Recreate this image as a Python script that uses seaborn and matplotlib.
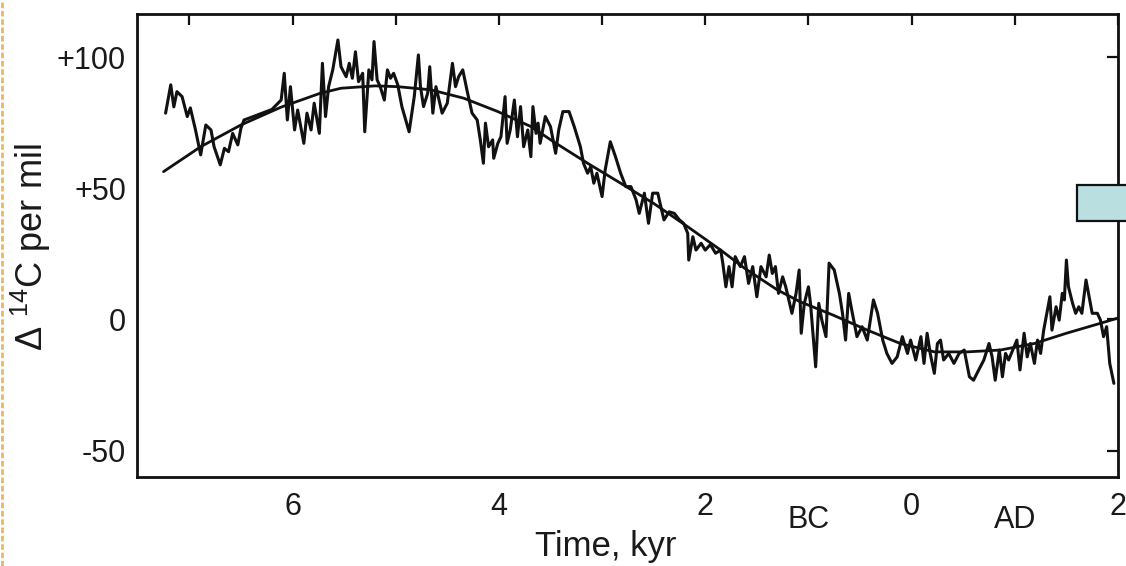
import matplotlib
matplotlib.use("Agg")
import matplotlib.pyplot as plt
from matplotlib.patches import Rectangle
from matplotlib.lines import Line2D
import seaborn as sns
import pandas as pd

# ---- data (time in kyr, negative = BC; delta 14C in per mil) ----
time_record = [-7.23, -7.18, -7.15, -7.12, -7.07, -7.02, -6.99, -6.94, -6.89, -6.84,
               -6.79, -6.76, -6.70, -6.66, -6.62, -6.58, -6.53, -6.50, -6.47, -6.40,
               -6.30, -6.20, -6.11, -6.08, -6.05, -6.02, -5.98, -5.95, -5.89, -5.86,
               -5.82, -5.79, -5.74, -5.71, -5.68, -5.65, -5.61, -5.56, -5.53, -5.48,
               -5.45, -5.42, -5.39, -5.36, -5.32, -5.30, -5.26, -5.23, -5.21, -5.18,
               -5.15, -5.11, -5.08, -5.05, -5.02, -4.98, -4.94, -4.87, -4.82, -4.78,
               -4.76, -4.73, -4.69, -4.67, -4.64, -4.61, -4.58, -4.55, -4.50, -4.45,
               -4.42, -4.39, -4.35, -4.31, -4.26, -4.21, -4.18, -4.15, -4.13, -4.10,
               -4.06, -4.05, -4.01, -3.98, -3.94, -3.92, -3.89, -3.85, -3.82, -3.79,
               -3.76, -3.72, -3.69, -3.67, -3.64, -3.62, -3.60, -3.55, -3.50, -3.45,
               -3.42, -3.38, -3.32, -3.27, -3.21, -3.18, -3.14, -3.11, -3.08, -3.05,
               -3.00, -2.97, -2.92, -2.87, -2.82, -2.77, -2.72, -2.67, -2.64, -2.59,
               -2.55, -2.51, -2.46, -2.43, -2.40, -2.35, -2.30, -2.25, -2.21, -2.17,
               -2.16, -2.12, -2.09, -2.04, -2.00, -1.95, -1.90, -1.85, -1.83, -1.80,
               -1.77, -1.74, -1.71, -1.66, -1.62, -1.58, -1.54, -1.50, -1.46, -1.41,
               -1.38, -1.35, -1.32, -1.29, -1.25, -1.22, -1.19, -1.16, -1.12, -1.09,
               -1.07, -1.04, -1.00, -0.98, -0.93, -0.90, -0.87, -0.83, -0.80, -0.75,
               -0.70, -0.67, -0.64, -0.61, -0.58, -0.53, -0.48, -0.43, -0.37, -0.33,
               -0.28, -0.24, -0.19, -0.14, -0.09, -0.04, -0.01, 0.04, 0.09, 0.12,
               0.15, 0.18, 0.22, 0.25, 0.28, 0.31, 0.36, 0.41, 0.46, 0.51,
               0.56, 0.60, 0.65, 0.70, 0.75, 0.78, 0.81, 0.85, 0.88, 0.91,
               0.94, 0.98, 1.02, 1.05, 1.09, 1.12, 1.15, 1.19, 1.22, 1.25,
               1.28, 1.31, 1.34, 1.36, 1.40, 1.43, 1.46, 1.48, 1.50, 1.52,
               1.56, 1.59, 1.62, 1.65, 1.69, 1.72, 1.75, 1.80, 1.83, 1.86,
               1.89, 1.92, 1.96]
delta_record = [78.6, 89.4, 81.0, 86.8, 84.9, 77.3, 80.6, 72.2, 62.7, 74.1,
                72.2, 65.8, 58.9, 65.2, 63.9, 70.9, 66.5, 72.8, 76.0, 77.0,
                78.5, 80.0, 83.6, 93.8, 76.0, 88.7, 72.2, 79.8, 67.1, 78.6,
                72.2, 82.4, 70.9, 97.6, 77.3, 88.7, 95.1, 106.5, 96.3, 92.5,
                97.6, 91.9, 102.0, 90.6, 93.8, 71.5, 95.1, 91.3, 105.9, 91.3,
                88.7, 83.6, 95.1, 91.9, 93.8, 89.4, 81.1, 71.5, 84.9, 100.8,
                88.7, 81.1, 86.2, 96.3, 78.6, 88.7, 83.6, 78.6, 82.4, 97.6,
                88.7, 92.5, 95.1, 87.5, 78.6, 76.0, 68.4, 59.5, 74.8, 65.8,
                68.4, 61.4, 67.1, 69.6, 84.9, 67.1, 72.2, 83.6, 69.6, 81.1,
                65.8, 72.2, 62.0, 81.1, 70.9, 74.8, 67.1, 77.3, 73.5, 63.3,
                72.2, 79.2, 79.2, 73.5, 65.8, 59.5, 55.7, 58.2, 51.9, 55.7,
                46.8, 56.9, 67.7, 62.0, 55.7, 50.6, 50.6, 45.5, 40.4, 48.1,
                36.6, 48.1, 48.1, 42.9, 37.9, 41.0, 40.4, 37.9, 36.6, 32.8,
                22.6, 31.5, 26.4, 29.0, 26.4, 28.5, 25.2, 26.4, 21.4, 12.4,
                20.1, 12.4, 23.9, 20.1, 23.9, 13.7, 20.1, 8.6, 20.1, 16.2,
                24.5, 17.5, 20.1, 9.9, 16.2, 12.4, 7.4, 2.3, 9.9, 18.8,
                -5.3, 6.1, 12.4, 6.1, -18.1, 6.1, -0.3, -6.6, 21.4, 18.8,
                9.9, 2.3, -7.9, 9.9, 3.5, -6.6, -2.8, -7.9, 7.4, 2.3,
                -7.9, -13.0, -16.8, -14.3, -6.6, -13.0, -7.9, -15.5, -6.6, -16.8,
                -5.3, -13.0, -20.6, -9.2, -7.9, -15.5, -13.0, -16.8, -13.0, -11.7,
                -21.9, -23.2, -19.3, -15.5, -9.2, -14.3, -23.2, -11.7, -21.9, -13.0,
                -15.5, -11.7, -7.9, -19.3, -5.3, -14.3, -9.2, -16.8, -7.9, -13.0,
                -4.1, 2.3, 8.6, -4.1, 4.8, -0.3, 9.9, 7.4, 22.6, 12.4,
                6.1, 2.3, 4.8, 2.3, 15.0, 8.6, 2.3, 2.3, -0.3, -6.6,
                -2.8, -16.8, -24.4]

time_trend = [-7.25, -6.89, -6.50, -6.11, -5.73, -5.53, -5.20, -4.98, -4.66, -4.34,
              -4.01, -3.69, -3.47, -3.14, -2.82, -2.50, -2.17, -1.85, -1.62, -1.30,
              -1.08, -0.76, -0.43, -0.11, 0.22, 0.54, 0.86, 1.19, 1.50, 1.83, 2.00]
delta_trend = [56.3, 65.8, 74.1, 80.9, 86.2, 88.1, 89.0, 88.7, 87.5, 84.3,
               79.2, 73.5, 67.7, 59.5, 51.9, 44.2, 35.3, 26.4, 19.5, 11.2,
               6.7, 1.6, -4.1, -9.2, -12.4, -12.4, -11.7, -9.2, -5.3, -1.5, 0.5]

x_ticks = [-7, -6, -5, -4, -3, -2, -1, 0, 1, 2]
x_ticklabels = ["", "6", "", "4", "", "2", "", "0", "", "2"]
era_labels = {-1: "BC", 1: "AD"}
y_ticks = [-50, 0, 50, 100]
y_ticklabels = ["-50", "0", "+50", "+100"]

# ---- style ----
sns.set_style("white")
plt.rcParams["font.family"] = ["Liberation Sans", "DejaVu Sans"]
plt.rcParams["mathtext.fontset"] = "custom"
plt.rcParams["mathtext.rm"] = "Liberation Sans"
plt.rcParams["mathtext.it"] = "Liberation Sans:italic"

W, H = 1126, 566
fig = plt.figure(figsize=(W / 100, H / 100), dpi=100)
fig.patch.set_facecolor("white")
ax = fig.add_axes([137 / W, 1 - 477 / H, (1118 - 137) / W, (477 - 14) / H])
ax.set_facecolor("white")

ink = "#111111"
txt = "#1a1a1a"
rec = pd.DataFrame({"time": time_record, "delta": delta_record})
trend = pd.DataFrame({"time": time_trend, "delta": delta_trend})
sns.lineplot(data=rec, x="time", y="delta", ax=ax, color=ink, linewidth=2.2,
             estimator=None, sort=False)
sns.lineplot(data=trend, x="time", y="delta", ax=ax, color=ink, linewidth=2.0,
             estimator=None, sort=False)

ax.set_xlim(-7.507, 2.0)
ax.set_ylim(-60.1, 116.4)
ax.set_xticks(x_ticks)
ax.set_xticklabels(x_ticklabels)
ax.set_yticks(y_ticks)
ax.set_yticklabels(y_ticklabels)
ax.tick_params(axis="both", which="major", direction="in", length=8, width=1.6,
               color=ink, labelcolor=txt, labelsize=22,
               top=True, right=True)
ax.tick_params(axis="x", pad=11)
ax.tick_params(axis="y", pad=8)
for s in ax.spines.values():
    s.set_visible(True)
    s.set_color(ink)
    s.set_linewidth(2.0)

for xv, lab in era_labels.items():
    ax.text(xv, -0.092, lab, transform=ax.get_xaxis_transform(), ha="center",
            va="center", fontsize=22, color=txt)

ax.set_xlabel("Time, kyr", fontsize=25, color=txt)
ax.xaxis.set_label_coords(0.478, -0.115)
ax.set_ylabel(r"$\Delta$ $^{14}$C per mil", fontsize=26, color=txt)
ax.yaxis.set_label_coords(-0.086, 0.496)

# decorative elements from the source slide
fig.add_artist(Rectangle((1077 / W, 1 - 221 / H), 0.08, 36 / H,
                         transform=fig.transFigure, facecolor="#b9dfe0",
                         edgecolor="#111111", linewidth=1.6, zorder=10))
fig.add_artist(Line2D([1.5 / W, 1.5 / W], [0, 1], transform=fig.transFigure,
                      color="#e9b862", linewidth=2.0, linestyle=(0, (2, 1))))

fig.savefig("out.png", dpi=100)
